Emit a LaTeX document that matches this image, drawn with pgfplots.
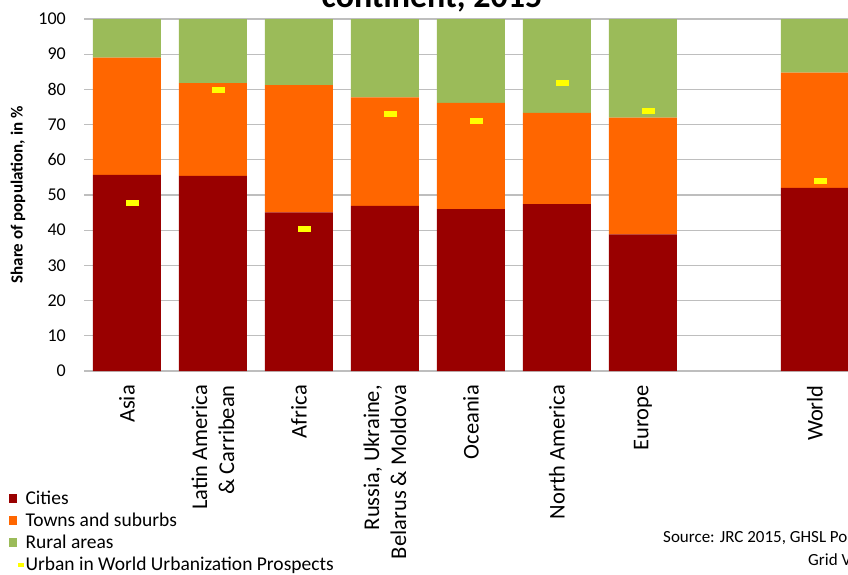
\documentclass[border=0pt]{standalone}
\usepackage{pgfplots}
\pgfplotsset{compat=1.18}
\usepackage{fontspec}
\setmainfont{Carlito}
\definecolor{cities}{HTML}{990000}
\definecolor{towns}{HTML}{FF6600}
\definecolor{rural}{HTML}{9BBB59}
\definecolor{wup}{HTML}{FFFF00}
\definecolor{gridc}{HTML}{BEBEBE}
\begin{document}
\begin{tikzpicture}[x=1pt,y=1pt]
\begin{axis}[
  at={(84pt,203pt)}, anchor=south west,
  scale only axis, width=764pt, height=352pt,
  xmin=-0.5, xmax=8.384, ymin=0, ymax=100,
  ybar stacked, bar width=68pt,
  xtick={0,1,2,3,4,5,6,8},
  xticklabels={Asia,{Latin America\\\& Carribean},Africa,{Russia, Ukraine,\\Belarus \& Moldova},Oceania,North America,Europe,World},
  ytick={0,10,...,100},
  ymajorgrids, grid style={line width=1.3pt, color=gridc},
  axis line style={draw=none},
  major tick length=0pt,
  /pgf/number format/assume math mode=true,
  yticklabel style={font=\fontsize{18}{20}\selectfont, anchor=east, inner sep=0pt, xshift=-18pt},
  xticklabel style={font=\fontsize{22.5}{27}\selectfont, rotate=90, anchor=east, align=right, inner sep=0pt, xshift=-14pt},
  ylabel={Share of population, in \%},
  ylabel style={font=\bfseries\fontsize{17}{20}\selectfont, at={(axis description cs:-0.0864,0.5)}, anchor=center},
  legend style={at={(axis description cs:-0.0982,-0.341)}, anchor=north west, draw=none, fill=none,
    font=\fontsize{19.5}{22}\selectfont, inner sep=0pt, row sep=0pt, column sep=2pt,
    nodes={inner sep=0pt, text height=13pt, text depth=9pt}},
  legend cell align=left,
]
\addplot[fill=cities, draw=none, legend image code/.code={\fill[cities] (0pt,-0.5pt) rectangle (8pt,8.5pt); \path (14pt,0pt);}]
  coordinates {(0,55.7) (1,55.4) (2,45.1) (3,46.9) (4,46.0) (5,47.4) (6,38.8) (8,52.0)};
\addlegendentry{Cities}
\addplot[fill=towns, draw=none, legend image code/.code={\fill[towns] (0pt,-0.5pt) rectangle (8pt,8.5pt); \path (14pt,0pt);}]
  coordinates {(0,33.3) (1,26.4) (2,36.1) (3,30.8) (4,30.2) (5,25.9) (6,33.2) (8,32.8)};
\addlegendentry{Towns and suburbs}
\addplot[fill=rural, draw=none, legend image code/.code={\fill[rural] (0pt,-0.5pt) rectangle (8pt,8.5pt); \path (14pt,0pt);}]
  coordinates {(0,11.0) (1,18.2) (2,18.8) (3,22.3) (4,23.8) (5,26.7) (6,28.0) (8,15.2)};
\addlegendentry{Rural areas}
\addlegendimage{legend image code/.code={\fill[wup] (9pt,2.5pt) rectangle (14pt,5.5pt); \path (0pt,0pt);}}
\addlegendentry{Urban in World Urbanization Prospects}
\end{axis}
\begin{axis}[
  at={(84pt,203pt)}, anchor=south west,
  scale only axis, width=764pt, height=352pt,
  xmin=-0.5, xmax=8.384, ymin=0, ymax=100,
  hide axis,
]
\addplot[only marks, mark=-, mark size=6.5pt, mark options={line width=6pt, draw=wup}, xshift=5.5pt]
  coordinates {(0,47.8) (1,79.8) (2,40.3) (3,72.9) (4,71.0) (5,81.7) (6,73.9) (8,54.0)};
\end{axis}
\node[font=\bfseries\fontsize{34}{40}\selectfont, anchor=base] at (432pt,566pt) {continent, 2015};
\node[font=\fontsize{17}{20}\selectfont, anchor=base west, inner sep=0pt] at (663pt,32pt) {Source: JRC 2015, GHSL Population};
\node[font=\fontsize{17}{20}\selectfont, anchor=base west, inner sep=0pt] at (808pt,9pt) {Grid Version};
\pgfresetboundingbox
\path[use as bounding box] (0pt,0pt) rectangle (848pt,574pt);
\end{tikzpicture}
\end{document}
